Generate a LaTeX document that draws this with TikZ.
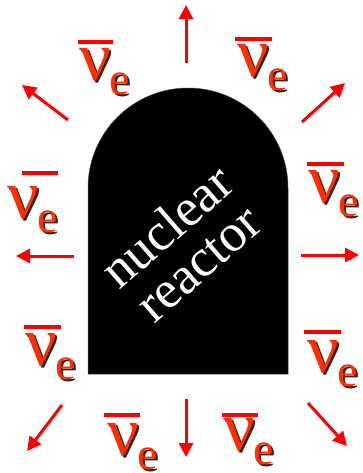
\documentclass[tikz,border=0pt]{standalone}
\usepackage{fontspec}
\setmainfont{Liberation Serif}
\usetikzlibrary{arrows.meta}
\definecolor{nucol}{RGB}{255,45,0}
\definecolor{arrowred}{RGB}{255,0,0}
\newcommand\shadowtext[1]{\makebox[0pt][l]{\kern2pt\raisebox{-2pt}{\color{black!85}#1}}{\color{nucol}#1}}
\newcommand\NuE{\shadowtext{\fontsize{70}{70}\selectfont ν}\kern-1pt\raisebox{-14pt}{\shadowtext{\fontsize{46}{46}\selectfont e}}}
\begin{document}
\begin{tikzpicture}[x=1pt,y=-1pt,
  flux/.style={draw=arrowred,line width=3pt,-{Triangle[length=14pt,width=14pt]}},
  barline/.style={draw=arrowred,line width=3.2pt},
  nulab/.style={inner sep=0pt,anchor=base west},
  reactor/.style={fill=black,draw=black!70,line width=0.5pt}]
\useasboundingbox (0,0) rectangle (362,473);
% reactor
\path[reactor] (88,374) -- (88,188) arc (180:360:100) -- (288,374) -- cycle;
\node[text=white,font=\fontsize{53}{48}\selectfont,align=center,rotate=41,inner sep=0pt] (txt) at (182,244) {nuclear\\reactor};
% arrows
\coordinate (t1) at (186,63);  \coordinate (h1) at (186,5);
\coordinate (t2) at (68,120);  \coordinate (h2) at (22,85);
\coordinate (t3) at (302,122); \coordinate (h3) at (345,83);
\coordinate (t4) at (74,256);  \coordinate (h4) at (16,256);
\coordinate (t5) at (301,255); \coordinate (h5) at (359,255);
\coordinate (t6) at (186,399); \coordinate (h6) at (186,457);
\coordinate (t7) at (62,405);  \coordinate (h7) at (27,451);
\coordinate (t8) at (308,403); \coordinate (h8) at (347,446);
\foreach \i in {1,...,8} {\draw[flux] (t\i) -- (h\i);}
% labels
\node[nulab] (n1) at (79,81) {\NuE};
\node[nulab] (n2) at (237,77) {\NuE};
\node[nulab] (n3) at (7,218) {\NuE};
\node[nulab] (n4) at (308,202) {\NuE};
\node[nulab] (n5) at (25,365) {\NuE};
\node[nulab] (n6) at (307,372) {\NuE};
\node[nulab] (n7) at (107,455) {\NuE};
\node[nulab] (n8) at (223,450) {\NuE};
% bars
\coordinate (b1a) at (78,42);  \coordinate (b1b) at (113,42);
\coordinate (b2a) at (235,39); \coordinate (b2b) at (272,39);
\coordinate (b3a) at (22,173); \coordinate (b3b) at (58,173);
\coordinate (b4a) at (307,164);\coordinate (b4b) at (344,164);
\coordinate (b5a) at (24,327); \coordinate (b5b) at (61,327);
\coordinate (b6a) at (304,332);\coordinate (b6b) at (341,332);
\coordinate (b7a) at (104,415);\coordinate (b7b) at (140,415);
\coordinate (b8a) at (222,415);\coordinate (b8b) at (258,415);
\foreach \i in {1,...,8} {\draw[barline] (b\i a) -- (b\i b);}
\end{tikzpicture}
\end{document}
